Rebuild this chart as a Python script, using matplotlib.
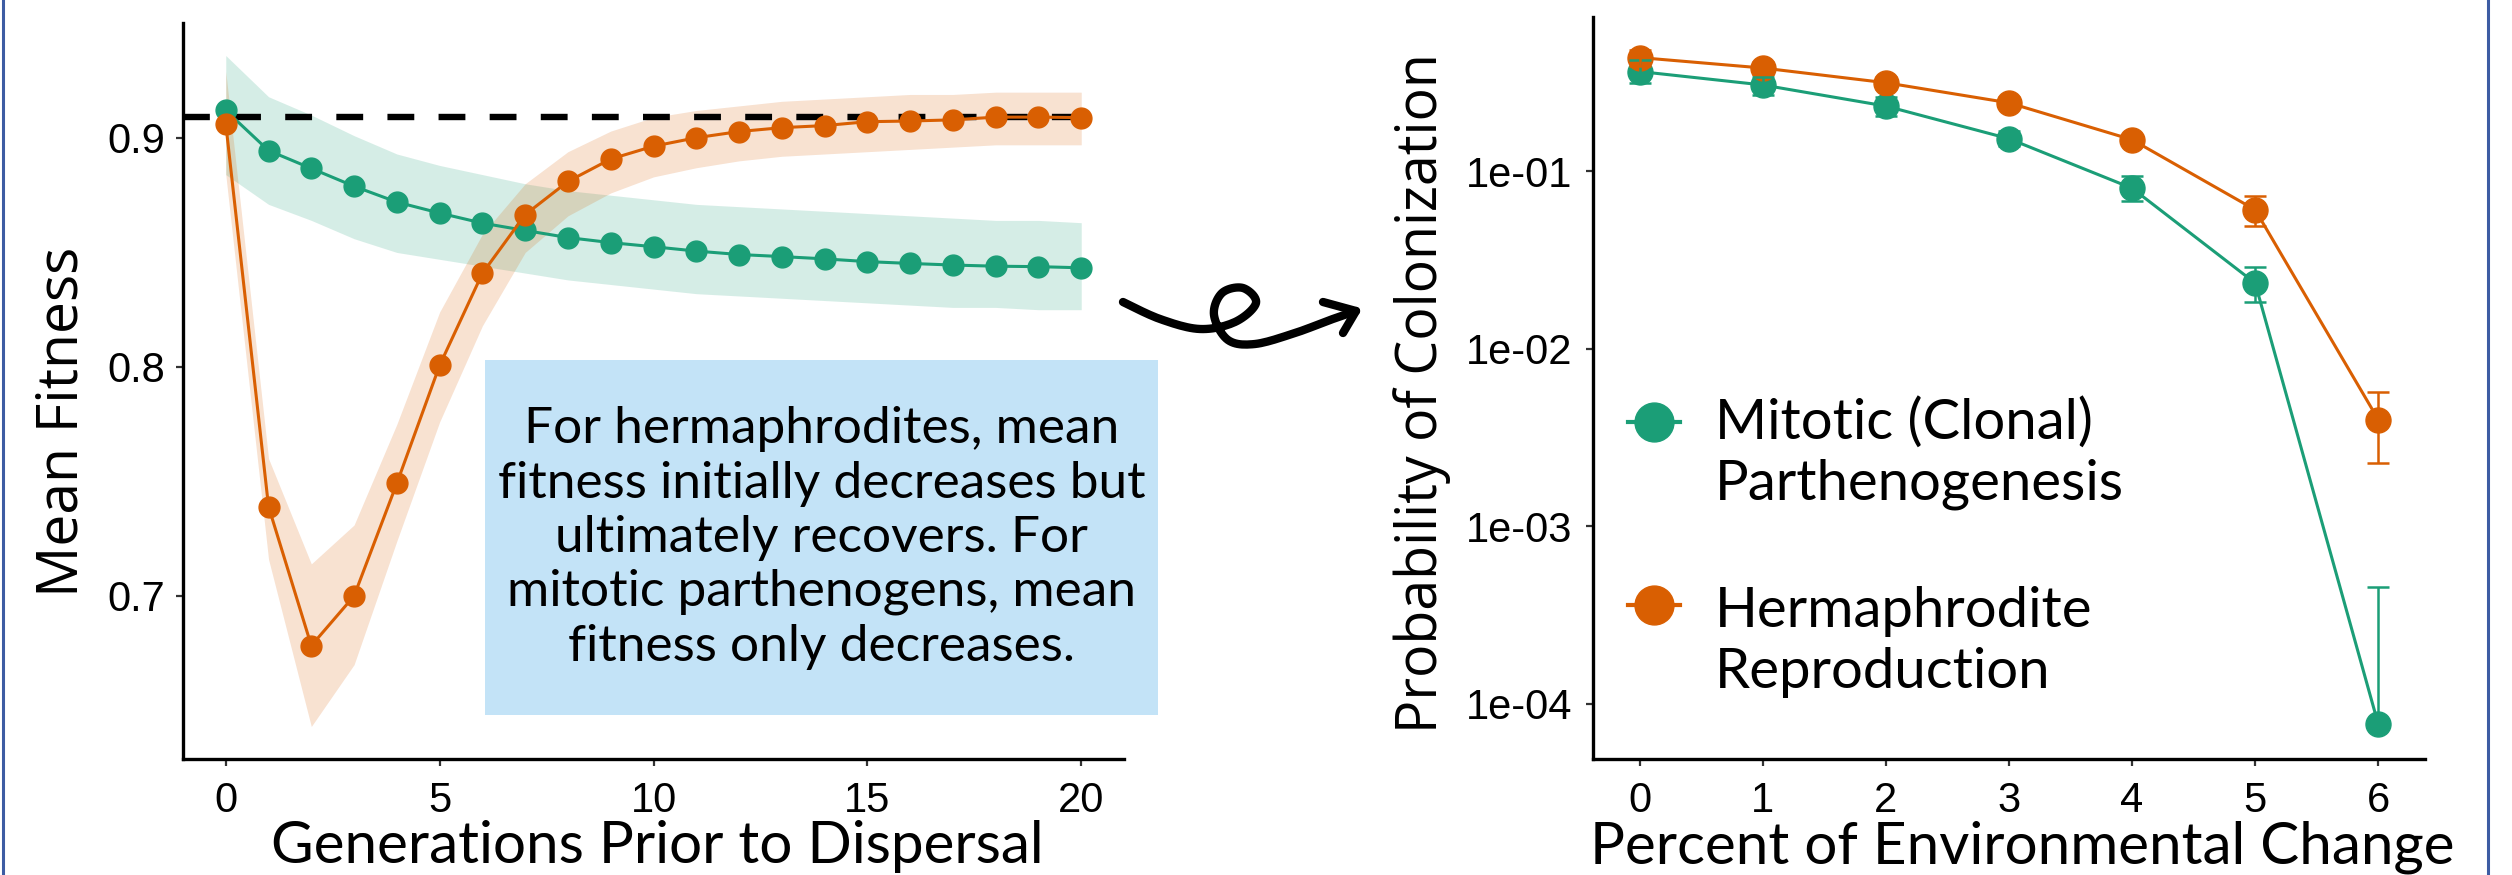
"""Fitness trajectories and colonization probability, hermaphrodite vs mitotic."""

import matplotlib

matplotlib.use("Agg")
import matplotlib.pyplot as plt
import numpy as np
from matplotlib.lines import Line2D
from matplotlib.patches import Rectangle

W, H = 2512, 875
GREEN = "#1b9e77"
ORANGE = "#d95f02"
BOX_BLUE = "#c3e3f7"
FRAME_BLUE = "#3d5ca3"

# left panel: mean fitness vs generations prior to dispersal
generations = list(range(21))
mitotic_fit = [0.912, 0.8945, 0.8867, 0.8789, 0.872, 0.8672, 0.8628, 0.8596, 0.8565,
               0.8543, 0.8525, 0.8506, 0.8491, 0.8482, 0.8472, 0.846, 0.8452, 0.8445,
               0.844, 0.8438, 0.8433]
mitotic_hi = [0.936, 0.918, 0.910, 0.901, 0.893, 0.888, 0.884, 0.880, 0.877, 0.875,
              0.873, 0.871, 0.870, 0.869, 0.868, 0.867, 0.866, 0.865, 0.864, 0.864, 0.863]
mitotic_lo = [0.884, 0.871, 0.864, 0.856, 0.850, 0.847, 0.844, 0.841, 0.838, 0.836,
              0.834, 0.832, 0.831, 0.830, 0.829, 0.828, 0.827, 0.826, 0.826, 0.825, 0.825]
herm_fit = [0.9062, 0.739, 0.6783, 0.700, 0.7492, 0.8007, 0.8409, 0.8665, 0.881,
            0.8908, 0.8964, 0.9001, 0.9028, 0.9045, 0.9054, 0.9071, 0.9074, 0.9079,
            0.9091, 0.9091, 0.9089]
herm_hi = [0.929, 0.760, 0.714, 0.731, 0.775, 0.824, 0.858, 0.880, 0.894, 0.903, 0.909,
           0.912, 0.914, 0.916, 0.917, 0.918, 0.919, 0.919, 0.920, 0.920, 0.920]
herm_lo = [0.884, 0.716, 0.643, 0.670, 0.724, 0.776, 0.818, 0.850, 0.866, 0.876, 0.883,
           0.887, 0.890, 0.892, 0.893, 0.894, 0.895, 0.896, 0.897, 0.897, 0.897]
baseline_fitness = 0.909

# right panel: probability of colonization vs % environmental change
env_change = [0, 1, 2, 3, 4, 5, 6]
mitotic_col = [0.363, 0.305, 0.232, 0.152, 0.080, 0.0234, 7.7e-5]
mitotic_col_lo = [0.314, 0.267, 0.205, 0.138, 0.0677, 0.0182, 7.7e-5]
mitotic_col_hi = [0.420, 0.340, 0.262, 0.168, 0.0934, 0.0289, 4.56e-4]
herm_col = [0.435, 0.380, 0.314, 0.242, 0.150, 0.0605, 0.00399]
herm_col_lo = [0.390, 0.350, 0.290, 0.225, 0.140, 0.049, 0.00228]
herm_col_hi = [0.478, 0.410, 0.340, 0.260, 0.160, 0.0721, 0.00569]

left_xticks = [0, 5, 10, 15, 20]
left_yticks = [0.7, 0.8, 0.9]
right_yticks = [1e-4, 1e-3, 1e-2, 1e-1]
right_yticklabels = ["1e-04", "1e-03", "1e-02", "1e-01"]

note = ("For hermaphrodites, mean\nfitness initially decreases but\n"
        "ultimately recovers. For\nmitotic parthenogens, mean\n"
        "fitness only decreases.")
legend_labels = ["Mitotic (Clonal)\nParthenogenesis", "Hermaphrodite\nReproduction"]

TICK_FONT = "Liberation Sans"
LABEL_FONT = "Lato"
YLAB_FONT = "Open Sans"


def fx(px):
    return px / W


def fy(py):
    return (H - py) / H


def style_axes(ax):
    for side in ("top", "right"):
        ax.spines[side].set_visible(False)
    for side in ("left", "bottom"):
        ax.spines[side].set_linewidth(2.4)
        ax.spines[side].set_color("black")
    ax.tick_params(which="major", direction="out", length=5, width=1.6,
                   color="#333333", labelsize=30, pad=8)
    ax.tick_params(axis="x", pad=11)
    ax.minorticks_off()
    for lab in ax.get_xticklabels() + ax.get_yticklabels():
        lab.set_family(TICK_FONT)


fig = plt.figure(figsize=(W / 100, H / 100), dpi=100)

# ---- left panel ----
ax1 = fig.add_axes([fx(183), fy(759), (1124 - 183) / W, (759 - 23) / H])
ax1.fill_between(generations, mitotic_lo, mitotic_hi, color=GREEN, alpha=0.18, lw=0)
ax1.fill_between(generations, herm_lo, herm_hi, color=ORANGE, alpha=0.18, lw=0)
ax1.plot([-1, generations[-1]], [baseline_fitness] * 2, color="black", lw=4.6,
         dashes=(4.2, 3.8), zorder=2)
ax1.plot(generations, mitotic_fit, color=GREEN, lw=2.2, marker="o", ms=15,
         zorder=3)
ax1.plot(generations, herm_fit, color=ORANGE, lw=2.2, marker="o", ms=15, zorder=4)
ax1.set_xlim(-1, 21)
ax1.set_ylim(0.6288, 0.9502)
ax1.set_xticks(left_xticks)
ax1.set_yticks(left_yticks)
ax1.set_yticklabels([f"{v:.1f}" for v in left_yticks])
style_axes(ax1)

# ---- right panel ----
ax2 = fig.add_axes([fx(1593), fy(759), (2425 - 1593) / W, (759 - 17) / H])
ax2.set_yscale("log")
ax2.plot(env_change, mitotic_col, color=GREEN, lw=2.2, zorder=2)
ax2.plot(env_change, herm_col, color=ORANGE, lw=2.2, zorder=2)
ax2.plot(env_change, mitotic_col, ls="none", marker="o", ms=18, color=GREEN, zorder=3)
ax2.plot(env_change, herm_col, ls="none", marker="o", ms=18, color=ORANGE, zorder=3)
for vals, lo, hi, col in ((mitotic_col, mitotic_col_lo, mitotic_col_hi, GREEN),
                          (herm_col, herm_col_lo, herm_col_hi, ORANGE)):
    v = np.array(vals)
    err = [v - np.array(lo), np.array(hi) - v]
    ax2.errorbar(env_change, v, yerr=err, fmt="none", ecolor=col, elinewidth=1.8,
                 capsize=8, capthick=1.8, zorder=4)
ax2.set_xlim(-0.38, 6.38)
ax2.set_ylim(10 ** -4.31, 10 ** -0.133)
ax2.set_xticks(env_change)
ax2.set_yticks(right_yticks)
ax2.set_yticklabels(right_yticklabels)
style_axes(ax2)
ax2.tick_params(axis="y", pad=10)

# manual legend (keys sit beside the first line of each label)
for (ky, ty), col, lab in zip(((0.454, 0.4117), (0.2075, 0.158)), (GREEN, ORANGE),
                              legend_labels):
    ax2.plot([0.042, 0.105], [ky, ky], color=col, lw=3, transform=ax2.transAxes,
             clip_on=False)
    ax2.plot([0.0735], [ky], marker="o", ms=28, color=col, transform=ax2.transAxes,
             clip_on=False)
    ax2.text(0.1466, ty, lab, transform=ax2.transAxes, ha="left", va="center",
             fontsize=40.5, family=LABEL_FONT, linespacing=1.24)

# ---- axis titles ----
fig.text(fx(657), fy(863), "Generations Prior to Dispersal", ha="center",
         va="baseline", fontsize=42, family=LABEL_FONT)
fig.text(fx(2022), fy(863), "Percent of Environmental Change", ha="center",
         va="baseline", fontsize=42, family=LABEL_FONT)
fig.text(fx(78), fy(422), "Mean Fitness", rotation=90, rotation_mode="anchor",
         ha="center", va="baseline", fontsize=41, family=YLAB_FONT)
fig.text(fx(1437), fy(393), "Probability of Colonization", rotation=90,
         rotation_mode="anchor", ha="center", va="baseline", fontsize=40,
         family=YLAB_FONT)

# ---- annotation box ----
fig.add_artist(Rectangle((fx(485), fy(715)), (1158 - 485) / W, (715 - 360) / H,
                         transform=fig.transFigure, facecolor=BOX_BLUE,
                         edgecolor="none", zorder=5))
fig.text(fx(821.5), fy(538), note, ha="center", va="center", fontsize=37,
         family=LABEL_FONT, linespacing=1.22, zorder=6)

# ---- curly arrow between panels ----
knots = np.array([(1123, 302), (1160, 319), (1200, 329), (1235, 322), (1256, 303),
                  (1243, 288), (1222, 293), (1214, 315), (1228, 340), (1255, 344),
                  (1295, 333), (1330, 320), (1356, 311)], dtype=float)
pts = np.vstack([knots[0], knots, knots[-1]])
curve = []
for i in range(1, len(pts) - 2):
    p0, p1, p2, p3 = pts[i - 1], pts[i], pts[i + 1], pts[i + 2]
    for t in np.linspace(0, 1, 12, endpoint=False):
        curve.append(0.5 * ((2 * p1) + (-p0 + p2) * t
                            + (2 * p0 - 5 * p1 + 4 * p2 - p3) * t ** 2
                            + (-p0 + 3 * p1 - 3 * p2 + p3) * t ** 3))
curve.append(knots[-1])
curve = np.array(curve)
fig.add_artist(Line2D(fx(curve[:, 0]), fy(curve[:, 1]), transform=fig.transFigure,
                      color="black", lw=6, solid_capstyle="round",
                      solid_joinstyle="round"))
head = np.array([(1323, 302), (1356, 311), (1343, 333)], dtype=float)
fig.add_artist(Line2D(fx(head[:, 0]), fy(head[:, 1]), transform=fig.transFigure,
                      color="black", lw=6, solid_capstyle="round",
                      solid_joinstyle="round"))

# slide frame edges
for xp in (3, 2488):
    fig.add_artist(Line2D([fx(xp), fx(xp)], [0, 1], transform=fig.transFigure,
                          color=FRAME_BLUE, lw=2.2))

fig.savefig("out.png", dpi=100)
